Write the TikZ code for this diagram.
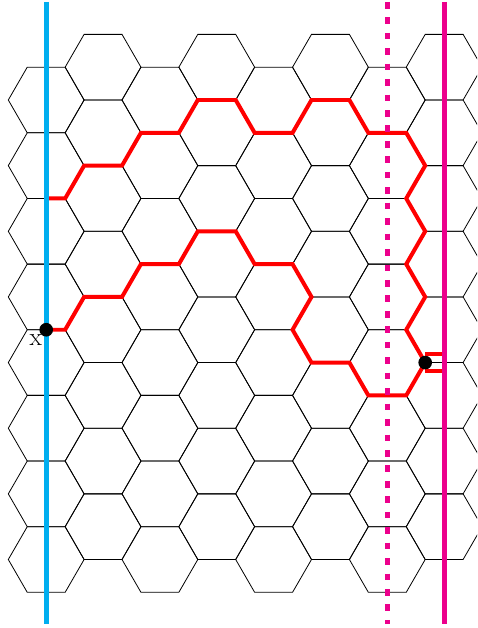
\documentclass[tikz,border=0pt]{standalone}
\usepackage{fontspec}
\usepackage{tikz}

\definecolor{wallblue}{RGB}{0,174,239}
\definecolor{wallpink}{RGB}{236,0,140}

\begin{document}
\begin{tikzpicture}[
    y=0.866cm,
    edge/.style={black, line width=0.6pt},
    walk/.style={red, line width=3pt},
    wall/.style={line width=3.75pt},
    site/.style={circle, fill=black, inner sep=0pt, minimum size=0.36cm},
    tagtext/.style={font=\fontsize{19}{21}\selectfont, inner sep=0pt}
]
    \useasboundingbox (-1.219,-2.087) rectangle (11.367,17.047);
    \clip (-1.219,-2.087) rectangle (11.367,17.047);

    % Lattice
    \foreach \i in {0,...,7}
        \foreach \k in {0,...,7}
            \draw[edge] ({1.5*\i-1}, {2*\k+mod(\i,2)}) -- ++(0.5,1) -- ++(1,0) -- ++(0.5,-1) -- ++(-0.5,-1) -- ++(-1,0) -- cycle;

    % Marked points
    \coordinate (xpt) at (0,7);
    \coordinate (ypt) at (10,6);

    % Red loop
    \draw[walk] (0,11) -- (0.5,11) -- (1,12) -- (2,12) -- (2.5,13) -- (3.5,13) -- (4,14) -- (5,14)
        -- (5.5,13) -- (6.5,13) -- (7,14) -- (8,14) -- (8.5,13) -- (9.5,13) -- (10,12) -- (9.5,11)
        -- (10,10) -- (9.5,9) -- (10,8) -- (9.5,7) -- (ypt);
    \draw[walk] (ypt) -- (9.5,5) -- (8.5,5) -- (8,6) -- (7,6) -- (6.5,7) -- (7,8) -- (6.5,9) -- (5.5,9)
        -- (5,10) -- (4,10) -- (3.5,9) -- (2.5,9) -- (2,8) -- (1,8) -- (0.5,7) -- (xpt);
    \draw[walk] (10,6.26) -- (10.5,6.26);
    \draw[walk] (10,5.74) -- (10.5,5.74);

    % Walls
    \coordinate (blueTop) at (0,16.99);
    \coordinate (blueBot) at (0,-1.97);
    \coordinate (dotTop) at (9,16.99);
    \coordinate (dotBot) at (9,-1.97);
    \coordinate (pinkTop) at (10.5,16.99);
    \coordinate (pinkBot) at (10.5,-1.97);
    \draw[wall, wallblue] (blueTop) -- (blueBot);
    \draw[wall, wallpink, dash pattern=on 5pt off 6.6pt] (dotTop) -- (dotBot);
    \draw[wall, wallpink] (pinkTop) -- (pinkBot);

    \node[site] (xdot) at (xpt) {};
    \node[site] (ydot) at (ypt) {};
    \node[tagtext] (xlab) at (-0.274,6.672) {x};

\end{tikzpicture}
\end{document}
